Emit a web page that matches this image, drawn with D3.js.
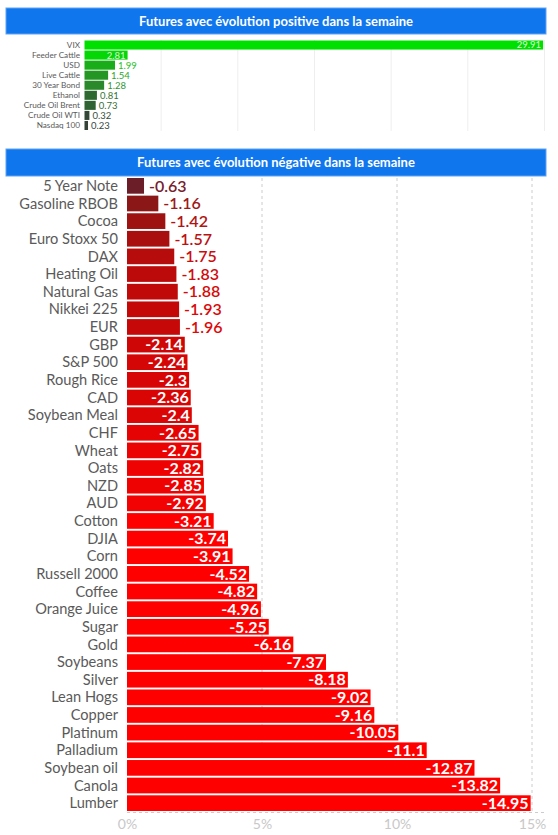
<!DOCTYPE html>
<html>
<head>
<meta charset="utf-8">
<script src="https://cdn.jsdelivr.net/npm/d3@7"></script>
<style>
  body { margin: 0; background: #fff; }
  svg { display: block; font-family: Lato, "Open Sans", sans-serif; }
  .head text { fill: #fff; font-weight: bold; font-size: 13px; }
  .cat { fill: #5a5a5a; }
</style>
</head>
<body>
<svg></svg>
<script>
var width = 558, height = 835;

// weekly change, positive futures
var posNames = ["VIX", "Feeder Cattle", "USD", "Live Cattle", "30 Year Bond", "Ethanol",
  "Crude Oil Brent", "Crude Oil WTI", "Nasdaq 100"];
var posValues = [29.91, 2.81, 1.99, 1.54, 1.28, 0.81, 0.73, 0.32, 0.23];
var posGrid = [5, 10, 15, 20, 25, 30];

// weekly change, negative futures
var negNames = ["5 Year Note", "Gasoline RBOB", "Cocoa", "Euro Stoxx 50", "DAX", "Heating Oil",
  "Natural Gas", "Nikkei 225", "EUR", "GBP", "S&P 500", "Rough Rice", "CAD", "Soybean Meal",
  "CHF", "Wheat", "Oats", "NZD", "AUD", "Cotton", "DJIA", "Corn", "Russell 2000", "Coffee",
  "Orange Juice", "Sugar", "Gold", "Soybeans", "Silver", "Lean Hogs", "Copper", "Platinum",
  "Palladium", "Soybean oil", "Canola", "Lumber"];
var negValues = [-0.63, -1.16, -1.42, -1.57, -1.75, -1.83, -1.88, -1.93, -1.96, -2.14, -2.24,
  -2.3, -2.36, -2.4, -2.65, -2.75, -2.82, -2.85, -2.92, -3.21, -3.74, -3.91, -4.52, -4.82,
  -4.96, -5.25, -6.16, -7.37, -8.18, -9.02, -9.16, -10.05, -11.1, -12.87, -13.82, -14.95];
var negTicks = [0, 5, 10, 15];

var svg = d3.select("svg").attr("width", width).attr("height", height);

function header(y, h, label) {
  var g = svg.append("g").attr("class", "head");
  g.append("rect").attr("x", 6).attr("y", y).attr("width", 540).attr("height", h)
    .attr("fill", "#0f76ee").attr("stroke", "#5fa3f3").attr("stroke-width", 1);
  g.append("text").attr("x", 276).attr("y", y + h / 2).attr("dy", "0.35em")
    .attr("text-anchor", "middle").text(label);
}

header(8, 26, "Futures avec évolution positive dans la semaine");
header(149, 27, "Futures avec évolution négative dans la semaine");

// ---- top chart
var xp = d3.scaleLinear().domain([0, 30]).range([84.5, 544.5]);
var yp = d3.scaleBand().domain(posNames).range([40.5, 130]).paddingInner(0.1);
var cp = d3.scaleLinear().domain([0.2, 1.3, 3]).range(["#333f37", "#2a8a2a", "#00e000"]).clamp(true);

svg.append("g").selectAll("line").data(posGrid).join("line")
  .attr("x1", d => xp(d)).attr("x2", d => xp(d))
  .attr("y1", 40).attr("y2", 131)
  .attr("stroke", "#eeeeee");

var posRows = svg.append("g").selectAll("g").data(posNames).join("g");
posRows.append("rect")
  .attr("x", xp(0)).attr("y", d => yp(d))
  .attr("width", (d, i) => xp(posValues[i]) - xp(0))
  .attr("height", yp.bandwidth())
  .attr("fill", (d, i) => cp(posValues[i]));
posRows.append("text").attr("class", "cat")
  .attr("x", 80).attr("y", d => yp(d) + yp.bandwidth() / 2).attr("dy", "0.35em")
  .attr("text-anchor", "end").attr("font-size", "8.2px").attr("fill", "#707070")
  .text(d => d);
posRows.append("text")
  .attr("x", (d, i) => posValues[i] > 2.5 ? xp(posValues[i]) - 2 : xp(posValues[i]) + 3)
  .attr("y", d => yp(d) + yp.bandwidth() / 2).attr("dy", "0.36em")
  .attr("text-anchor", (d, i) => posValues[i] > 2.5 ? "end" : "start")
  .attr("font-size", "9.5px")
  .attr("fill", (d, i) => posValues[i] > 2.5 ? "#d8f8d8" : d3.color(cp(posValues[i])).brighter(0.3))
  .text((d, i) => posValues[i]);

// ---- bottom chart
var xn = d3.scaleLinear().domain([0, 15]).range([127, 532]);
var yn = d3.scaleBand().domain(negNames).range([178, 811]).paddingInner(0.11);
var cn = d3.scaleLinear().domain([0.63, 1.2, 2, 3.2]).range(["#6b1e28", "#8e1616", "#c90707", "#ff0000"]).clamp(true);

svg.append("g").selectAll("line").data(negTicks.slice(1)).join("line")
  .attr("x1", d => xn(d)).attr("x2", d => xn(d))
  .attr("y1", 178).attr("y2", 812)
  .attr("stroke", "#cccccc").attr("stroke-dasharray", "3,3");
svg.append("line").attr("x1", xn(0)).attr("x2", 545).attr("y1", 812.5).attr("y2", 812.5)
  .attr("stroke", "#cccccc").attr("stroke-dasharray", "3,3");

var xAxis = svg.append("g").attr("transform", "translate(0,816)")
  .call(d3.axisBottom(xn).tickValues(negTicks).tickFormat(d => d + "%").tickSize(0));
xAxis.select(".domain").remove();
xAxis.selectAll("text").attr("font-family", "Lato, sans-serif").attr("font-size", "14px")
  .attr("fill", "#c8c8c8");

var negRows = svg.append("g").selectAll("g").data(negNames).join("g");
negRows.append("rect")
  .attr("x", xn(0)).attr("y", d => yn(d))
  .attr("width", (d, i) => xn(-negValues[i]) - xn(0))
  .attr("height", yn.bandwidth())
  .attr("fill", (d, i) => cn(-negValues[i]));
negRows.append("text").attr("class", "cat")
  .attr("x", 118).attr("y", d => yn(d) + yn.bandwidth() / 2).attr("dy", "0.35em")
  .attr("text-anchor", "end").attr("font-size", "14.6px")
  .text(d => d);
negRows.append("text")
  .attr("x", (d, i) => -negValues[i] > 2 ? xn(-negValues[i]) - 2 : xn(-negValues[i]) + 5)
  .attr("y", d => yn(d) + yn.bandwidth() / 2).attr("dy", "0.36em")
  .attr("text-anchor", (d, i) => -negValues[i] > 2 ? "end" : "start")
  .attr("font-size", "16px").attr("font-weight", (d, i) => -negValues[i] > 2 ? "bold" : "600")
  .attr("fill", (d, i) => -negValues[i] > 2 ? "#fff" : d3.color(cn(-negValues[i])).brighter(0.3))
  .text((d, i) => negValues[i]);
</script>
</body>
</html>
